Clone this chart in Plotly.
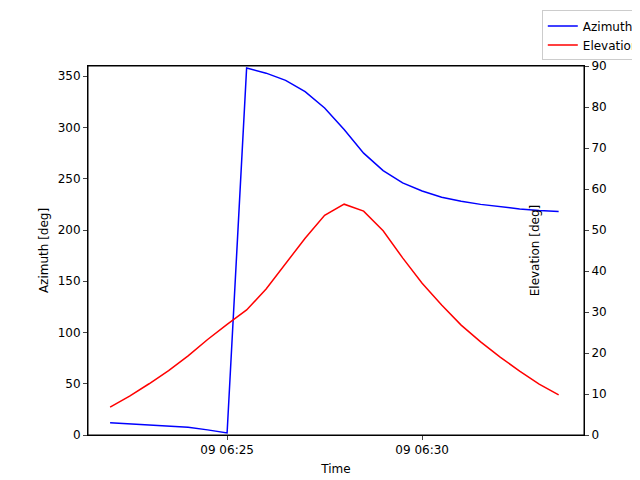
import pandas as pd
import plotly.graph_objects as go

times = pd.date_range("2024-01-09 06:22:00", periods=24, freq="30s")
azimuth = [12, 11, 10, 9, 7.5, 5, 2, 358, 353, 346, 335, 319, 298, 275,
           258, 246, 238, 232, 228, 225, 222.5, 220.5, 219, 218]
elevation = [6.8, 9.5, 12.5, 15.7, 19.3, 23.3, 27.0, 30.5, 35.6, 41.7, 48.0,
             53.6, 56.3, 54.6, 49.8, 43.2, 37.0, 31.7, 26.8, 22.7, 19.0,
             15.6, 12.4, 9.8]
tick_vals = ["2024-01-09 06:25:00", "2024-01-09 06:30:00"]
tick_text = ["09 06:25", "09 06:30"]

fig = go.Figure()
fig.add_trace(go.Scatter(x=times, y=azimuth, mode="lines", name="Azimuth",
                         line=dict(color="#0000ff", width=1.5)))
fig.add_trace(go.Scatter(x=times, y=elevation, mode="lines", name="Elevation",
                         yaxis="y2", line=dict(color="#ff0000", width=1.5)))

axis_style = dict(showline=True, linecolor="black", linewidth=1,
                  ticks="outside", ticklen=4, showgrid=False, zeroline=False,
                  tickfont=dict(size=12, color="black"))
title_font = dict(size=12, color="black")

fig.update_layout(
    width=640, height=480,
    paper_bgcolor="white", plot_bgcolor="white",
    font=dict(family="DejaVu Sans", size=12, color="black"),
    margin=dict(l=80, r=64, t=58, b=53, autoexpand=False),
    xaxis=dict(title=dict(text="Time", standoff=8, font=title_font),
               tickvals=tick_vals, ticktext=tick_text,
               range=["2024-01-09 06:21:26", "2024-01-09 06:34:09"],
               mirror=True, **axis_style),
    yaxis=dict(title=dict(text="Azimuth [deg]", standoff=6, font=title_font),
               range=[0, 360], tickvals=list(range(0, 351, 50)), **axis_style),
    yaxis2=dict(title=dict(text="Elevation [deg]", standoff=6, font=title_font),
                range=[0, 90], tickvals=list(range(0, 91, 10)), overlaying="y",
                side="right", **axis_style),
    legend=dict(x=0.995, y=0.995, xanchor="right", yanchor="top",
                xref="container", yref="container", bordercolor="#cccccc",
                borderwidth=1, bgcolor="white", font=dict(size=12)),
    showlegend=True,
)
fig.add_shape(type="rect", xref="paper", yref="paper", x0=0, x1=1, y0=0, y1=1,
              line=dict(color="black", width=1))

fig.write_html("out.html")
